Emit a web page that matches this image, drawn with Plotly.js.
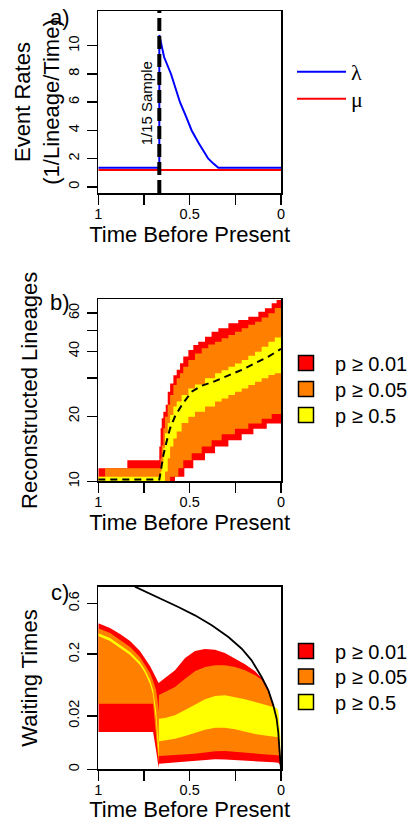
<!DOCTYPE html>
<html>
<head>
<meta charset="utf-8">
<script src="https://cdn.plot.ly/plotly-3.0.1.min.js"></script>
<style>
html,body{margin:0;padding:0;background:#ffffff;}
#chart{width:414px;height:822px;}
</style>
</head>
<body>
<div id="chart"></div>
<script>
// ---------- shared x ticks ----------
const xTickVals = [1, 0.75, 0.5, 0.25, 0];
const xTickText = ['1', '', '0.5', '', '0'];

// ---------- panel a : event rates ----------
const aLambdaTime = [1, 0.666, 0.666, 0.640, 0.602, 0.575, 0.553, 0.520, 0.489, 0.450, 0.398, 0.370, 0.343, 0];
const aLambdaRate = [1.35, 1.35, 10.76, 9.2, 8.0, 6.9, 6.0, 5.0, 4.0, 3.1, 2.0, 1.65, 1.35, 1.35];
const aMuTime = [1, 0];
const aMuRate = [1.2, 1.2];
const sampleTime = [0.666];
const sampleLabel = '1/15 Sample';
const aYTicks = [0, 2, 4, 6, 8, 10];

// ---------- panel b : reconstructed lineages (step boundaries) ----------
const bRedHiTime = [1, 0.841, 0.666, 0.659, 0.653, 0.644, 0.631, 0.620, 0.607, 0.589, 0.571, 0.553, 0.535, 0.507, 0.480, 0.453, 0.416, 0.380, 0.343, 0.288, 0.234, 0.179, 0.124, 0.088, 0.051, 0.024, 0];
const bRedHi     = [11.5, 12.5, 14.5, 17.6, 19.6, 21, 22.6, 26, 28.4, 31, 32.8, 35.2, 37.8, 40.5, 42.8, 44.3, 46.7, 49.3, 51.1, 53.9, 55.8, 57.8, 61, 63.2, 66.7, 69.1, 70];
const bRedLoTime = [1, 0.580, 0.529, 0.480, 0.416, 0.361, 0.288, 0.215, 0.151, 0.078, 0];
const bRedLo     = [9.5, 10.5, 11.5, 12.5, 13.5, 14.5, 15.5, 16.5, 17.5, 18.5, 18.5];
const bOrangeHiTime = [1, 0.963, 0.659, 0.653, 0.644, 0.635, 0.620, 0.607, 0.589, 0.571, 0.553, 0.535, 0.507, 0.471, 0.434, 0.398, 0.361, 0.325, 0.288, 0.252, 0.215, 0.179, 0.142, 0.106, 0.069, 0.034, 0];
const bOrangeHi     = [10.5, 11.5, 12.8, 14.7, 17.6, 19.9, 22.6, 25.1, 27.9, 30, 31.6, 33.9, 36.4, 39.1, 41.3, 43, 44.3, 46, 47.6, 49.3, 51.1, 53, 54.8, 57.3, 60, 63.5, 66.7];
const bOrangeLoTime = [1, 0.607, 0.562, 0.535, 0.489, 0.434, 0.380, 0.325, 0.252, 0.179, 0.106, 0.051, 0];
const bOrangeLo     = [9.5, 10.5, 11.5, 12.5, 13.5, 14.5, 15.5, 16.5, 17.5, 18.5, 19.5, 20.5, 21.5];
const bYellowHiTime = [1, 0.659, 0.653, 0.644, 0.635, 0.620, 0.607, 0.589, 0.571, 0.544, 0.507, 0.471, 0.416, 0.361, 0.325, 0.288, 0.252, 0.215, 0.179, 0.142, 0.106, 0.069, 0.034, 0];
const bYellowHi     = [10.5, 11.1, 12.1, 14.3, 16.7, 18.6, 20.3, 22.2, 23.4, 25.1, 26.9, 28.1, 30.0, 31.6, 32.7, 33.9, 35.1, 36.4, 38.1, 39.8, 42, 44.3, 46.3, 48.4];
const bYellowLoTime = [1, 0.635, 0.620, 0.607, 0.589, 0.571, 0.544, 0.507, 0.471, 0.416, 0.361, 0.325, 0.288, 0.252, 0.215, 0.179, 0.142, 0.106, 0.069, 0.034, 0];
const bYellowLo     = [9.5, 11.1, 12.8, 14.5, 15.8, 17, 18.6, 19.9, 21, 22.2, 23.4, 24.2, 25.1, 26, 26.9, 27.9, 28.9, 30, 31.05, 31.6, 32.1];
const bMedianTime = [1, 0.666, 0.659, 0.644, 0.626, 0.607, 0.580, 0.544, 0.489, 0.434, 0.361, 0.288, 0.215, 0.142, 0.069, 0];
const bMedian     = [10.2, 10.2, 11, 13.2, 15.3, 17.6, 20, 22.5, 26, 27.7, 29.1, 30.8, 32.8, 35.2, 37.8, 41];
const bYTicks = [10, 20, 30, 40, 50, 60];
const bYTickText = ['10', '20', '', '40', '', '60'];

// ---------- panel c : waiting times ----------
const cTime = [1, 0.936, 0.881, 0.826, 0.772, 0.744, 0.717, 0.700, 0.684, 0.676, 0.670,
               0.668, 0.635, 0.580, 0.525, 0.471, 0.416, 0.361, 0.307, 0.252, 0.197, 0.142, 0.106, 0.069, 0.042, 0.024, 0.015, 0.005, 0];
const cRedHi = [0.4083, 0.3701, 0.3250, 0.2771, 0.2172, 0.1809, 0.1446, 0.1209, 0.0998, 0.0903, 0.0843,
                0.0853, 0.0998, 0.1272, 0.1809, 0.2172, 0.2284, 0.2246, 0.2064, 0.1777, 0.1518, 0.1234, 0.0998, 0.0646, 0.0343, 0.0170, 0.0068, 0.00115, 0];
const cOrangeHi = [0.3678, 0.3322, 0.2836, 0.2400, 0.1858, 0.1489, 0.1172, 0.0903, 0.0654, 0.0437, 0.0247,
                   0.0538, 0.0606, 0.0731, 0.0977, 0.1234, 0.1405, 0.1475, 0.1475, 0.1405, 0.1272, 0.1089, 0.0945, 0.0606, 0.0317, 0.0154, 0.0059, 0.0009, 0];
const cYellowHi = [0.3301, 0.2970, 0.2520, 0.2117, 0.1621, 0.1285, 0.0934, 0.0654, 0.0274, 0.0080, 0.00188,
                   0.0170, 0.0177, 0.0206, 0.0269, 0.0354, 0.0449, 0.0517, 0.0531, 0.0496, 0.0449, 0.0400, 0.0371, 0.0343, 0.0317, 0.0302, 0.0269, 0.0068, 0];
const cYellowLo = [0.3107, 0.2771, 0.2342, 0.1959, 0.1489, 0.1172, 0.0814, 0.0538, 0.0157, 0.00188, 0.00019,
                   0.00287, 0.00319, 0.00377, 0.00484, 0.00645, 0.00817, 0.00946, 0.00946, 0.00838, 0.0068, 0.00577, 0.00529, 0.00484, 0.00456, 0.0044, 0.00429, 0.00181, 0];
const cOrangeLo = [0.0370, 0.0370, 0.0370, 0.0370, 0.0370, 0.0370, 0.0370, 0.0370, 0.0053, 0.00068, 0.000051,
                   0.00031, 0.00033, 0.00036, 0.00043, 0.0005, 0.00062, 0.00076, 0.0008, 0.00068, 0.0006, 0.0005, 0.00045, 0.0004, 0.00038, 0.00037, 0.00036, 0.00024, 0];
const cRedLo = [0.0068, 0.0068, 0.0068, 0.0068, 0.0068, 0.0068, 0.0068, 0.0068, 0.00094, 0.000051, 0.0000003,
                0.000023, 0.00003, 0.000038, 0.00005, 0.000075, 0.0001, 0.00013, 0.00012, 0.000106, 0.00009, 0.000066, 0.00006, 0.00005, 0.000045, 0.00004, 0.000038, 0.000013, 0];
const cMaxTime = [0.8, 0.744, 0.653, 0.562, 0.471, 0.379, 0.288, 0.215, 0.161, 0.106, 0.069, 0.042, 0.024, 0.015, 0.009, 0.004, 0];
const cMaxWait = [0.80, 0.739, 0.652, 0.561, 0.479, 0.392, 0.304, 0.230, 0.170, 0.103, 0.0646, 0.0343, 0.0170, 0.0068, 0.00115, 0.00001, 0];
const cYTicks = [0, 0.02, 0.2, 0.6];
const cYTickText = ['0', '0.02', '0.2', '0.6'];

// ---------- legend entries ----------
const bandNames = ['p \u2265 0.01', 'p \u2265 0.05', 'p \u2265 0.5'];
const bandColors = ['#FF0000', '#FF8000', '#FFFF00'];

// ---------- helpers ----------
const cube = v => Math.cbrt(v);
const SANS = 'Liberation Sans, Arial, Helvetica, sans-serif';

function band(xLo, yLo, xHi, yHi, color, xa, ya, shape) {
  return [
    {x: xLo, y: yLo, xaxis: xa, yaxis: ya, type: 'scatter', mode: 'lines',
     line: {width: 0, shape: shape, color: color}, showlegend: false, hoverinfo: 'skip'},
    {x: xHi, y: yHi, xaxis: xa, yaxis: ya, type: 'scatter', mode: 'lines',
     line: {width: 0, shape: shape, color: color}, fill: 'tonexty', fillcolor: color,
     showlegend: false, hoverinfo: 'skip'}
  ];
}

const traces = [];
// panel a
traces.push({x: aLambdaTime, y: aLambdaRate, xaxis: 'x', yaxis: 'y', type: 'scatter', mode: 'lines',
  line: {color: '#0000FF', width: 2}, name: '\u03BB', legend: 'legend'});
traces.push({x: aMuTime, y: aMuRate, xaxis: 'x', yaxis: 'y', type: 'scatter', mode: 'lines',
  line: {color: '#FF0000', width: 2}, name: '\u03BC', legend: 'legend2'});

// panel b
traces.push(...band(bRedLoTime, bRedLo, bRedHiTime, bRedHi, bandColors[0], 'x2', 'y2', 'hv'));
traces.push(...band(bOrangeLoTime, bOrangeLo, bOrangeHiTime, bOrangeHi, bandColors[1], 'x2', 'y2', 'hv'));
traces.push(...band(bYellowLoTime, bYellowLo, bYellowHiTime, bYellowHi, bandColors[2], 'x2', 'y2', 'hv'));
traces.push({x: bMedianTime, y: bMedian, xaxis: 'x2', yaxis: 'y2', type: 'scatter', mode: 'lines',
  line: {color: '#000000', width: 2, dash: '7px,5px'}, showlegend: false, hoverinfo: 'skip'});

// panel c
traces.push(...band(cTime, cRedLo.map(cube), cTime, cRedHi.map(cube), bandColors[0], 'x3', 'y3', 'linear'));
traces.push(...band(cTime, cOrangeLo.map(cube), cTime, cOrangeHi.map(cube), bandColors[1], 'x3', 'y3', 'linear'));
traces.push(...band(cTime, cYellowLo.map(cube), cTime, cYellowHi.map(cube), bandColors[2], 'x3', 'y3', 'linear'));
traces.push({x: cMaxTime, y: cMaxWait.map(cube), xaxis: 'x3', yaxis: 'y3', type: 'scatter', mode: 'lines',
  line: {color: '#000000', width: 1.8}, showlegend: false, hoverinfo: 'skip'});

// legend-only entries (square keys) for panels b and c, one small legend per row
const W = 414, H = 822;
const rowCentersA = [72, 99];
const rowCentersB = [363, 389, 415];
const rowCentersC = [651, 676.5, 702];
let legendN = 3;
const extraLegends = {};
[['x2', 'y2', rowCentersB], ['x3', 'y3', rowCentersC]].forEach(([xa, ya, rows]) => {
  bandNames.forEach((nm, i) => {
    const id = 'legend' + legendN++;
    extraLegends[id] = rows[i];
    traces.push({x: [null], y: [null], xaxis: xa, yaxis: ya,
      type: 'scatter', mode: 'markers', name: nm, legend: id,
      marker: {symbol: 'square', size: 15, color: bandColors[i], line: {color: '#000000', width: 1.5}}});
  });
});

const xDom = [98.3 / W, 281 / W];
const dom = (top, bot) => [1 - bot / H, 1 - top / H];
const titleFont = {family: SANS, size: 22, color: '#000'};

const xBase = {
  domain: xDom, range: [1, 0], tickmode: 'array', tickvals: xTickVals, ticktext: xTickText,
  ticks: 'outside', ticklen: 10, tickwidth: 1.5, tickcolor: '#000',
  showline: true, mirror: true, linecolor: '#000', linewidth: 1.5,
  showgrid: false, zeroline: false, automargin: false, ticklabelstandoff: -3,
  tickfont: {family: SANS, size: 14.5, color: '#000'},
  title: {text: 'Time Before Present', font: titleFont, standoff: 4}
};
const yBase = {
  tickmode: 'array', ticks: 'outside', ticklen: 10, tickwidth: 1.5, tickcolor: '#000',
  showline: true, mirror: true, linecolor: '#000', linewidth: 1.5,
  showgrid: false, zeroline: false, automargin: false, tickangle: -90, ticklabelstandoff: 2,
  tickfont: {family: SANS, size: 14.5, color: '#000'}
};

const legBase = {
  xanchor: 'left', yanchor: 'middle', bgcolor: 'rgba(0,0,0,0)', borderwidth: 0, traceorder: 'normal',
  font: {family: SANS, size: 20, color: '#000'}, itemclick: false, itemdoubleclick: false
};
const greekFont = {family: 'Liberation Serif, DejaVu Serif, serif', size: 22, color: '#000'};

const layout = {
  width: W, height: H,
  margin: {l: 0, r: 0, t: 0, b: 0},
  paper_bgcolor: '#fff', plot_bgcolor: '#fff',
  font: {family: SANS, color: '#000'},
  xaxis: Object.assign({}, xBase, {anchor: 'y'}),
  xaxis2: Object.assign({}, xBase, {anchor: 'y2'}),
  xaxis3: Object.assign({}, xBase, {anchor: 'y3'}),
  yaxis: Object.assign({}, yBase, {domain: dom(11, 193), anchor: 'x', range: [-0.43, 12.46],
    tickvals: aYTicks, ticktext: aYTicks.map(String),
    title: {text: 'Event Rates<br>(1/Lineage/Time)', font: titleFont, standoff: 0}}),
  yaxis2: Object.assign({}, yBase, {domain: dom(299.3, 481.3), anchor: 'x2', type: 'log', range: [1, 1.8426],
    tickvals: bYTicks, ticktext: bYTickText,
    title: {text: 'Reconstructed Lineages', font: titleFont, standoff: 22}}),
  yaxis3: Object.assign({}, yBase, {domain: dom(586.7, 769.3), anchor: 'x3', range: [0, 0.928],
    tickvals: cYTicks.map(cube), ticktext: cYTickText,
    title: {text: 'Waiting Times', font: titleFont, standoff: 22}}),
  legend: Object.assign({}, legBase, {x: 292 / W, y: 1 - rowCentersA[0] / H, itemwidth: 49, font: greekFont}),
  legend2: Object.assign({}, legBase, {x: 292 / W, y: 1 - rowCentersA[1] / H, itemwidth: 49, font: greekFont}),
  shapes: [{type: 'line', xref: 'x', yref: 'y domain', x0: sampleTime[0], x1: sampleTime[0], y0: 0, y1: 1,
    line: {color: '#000', width: 4, dash: '13px,5px'}, layer: 'above'}],
  annotations: [
    {text: sampleLabel, xref: 'x', yref: 'y', x: 0.735, y: 5.9, textangle: -90, showarrow: false,
     font: {family: SANS, size: 15, color: '#000'}},
    {text: 'a)', xref: 'paper', yref: 'paper', x: 60 / W, y: 1 - 17 / H, xanchor: 'center', yanchor: 'middle',
     showarrow: false, font: titleFont},
    {text: 'b)', xref: 'paper', yref: 'paper', x: 60 / W, y: 1 - 303 / H, xanchor: 'center', yanchor: 'middle',
     showarrow: false, font: titleFont},
    {text: 'c)', xref: 'paper', yref: 'paper', x: 60 / W, y: 1 - 592 / H, xanchor: 'center', yanchor: 'middle',
     showarrow: false, font: titleFont}
  ]
};
Object.keys(extraLegends).forEach(id => {
  layout[id] = Object.assign({}, legBase, {x: 277 / W, y: 1 - extraLegends[id] / H, itemwidth: 48});
});

Plotly.newPlot('chart', traces, layout, {displayModeBar: false, staticPlot: true});
</script>
</body>
</html>
